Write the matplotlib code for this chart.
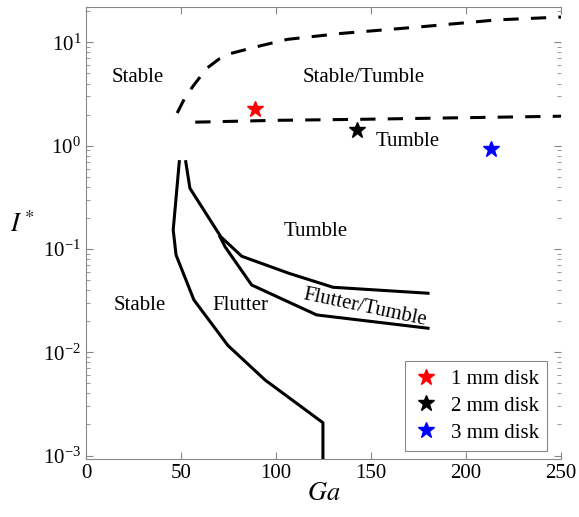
import numpy as np
import matplotlib
matplotlib.use('Agg')
import matplotlib.pyplot as plt

plt.rcParams['font.family'] = ['Liberation Serif', 'DejaVu Serif']
plt.rcParams['mathtext.fontset'] = 'stix'

# boundary curves (Ga, I*)
upper_ga = [48, 52, 56, 63.5, 70, 76, 90, 106, 134, 177, 216, 250]
upper_i = [2.07, 2.9, 3.7, 5.6, 6.9, 7.8, 9.1, 10.7, 12.2, 14.2, 16.5, 17.6]

lower_ga = [57.5, 100, 144, 250]
lower_i = [1.69, 1.76, 1.80, 1.93]

stable_ga = [49.1, 45.9, 47.4, 56.8, 74.7, 94.2, 124.7, 124.7]
stable_i = [0.70, 0.153, 0.0875, 0.0321, 0.01164, 0.0054, 0.00208, 0.00095]

tumble_ga = [52.5, 54.7, 71, 82, 107, 130, 180]
tumble_i = [0.70, 0.387, 0.131, 0.085, 0.058, 0.0426, 0.0373]

flutter_ga = [70.5, 73.2, 87.2, 121.4, 180]
flutter_i = [0.1316, 0.105, 0.0448, 0.023, 0.0171]

disk_labels = ['1 mm disk', '2 mm disk', '3 mm disk']
disk_colors = ['red', 'black', 'blue']
disk_ga = [89, 142.5, 213]
disk_i = [2.27, 1.42, 0.93]

fig = plt.figure(figsize=(5.79, 5.17), dpi=100)
ax = fig.add_axes([0.1485, 0.1122, 0.8205, 0.875])

ax.plot(upper_ga, upper_i, color='black', lw=2.2, dashes=(5, 4))
ax.plot(lower_ga, lower_i, color='black', lw=2.2, dashes=(5, 4))
ax.plot(stable_ga, stable_i, color='black', lw=2.2)
ax.plot(tumble_ga, tumble_i, color='black', lw=2.2)
ax.plot(flutter_ga, flutter_i, color='black', lw=2.2)

for lab, c, g, i in zip(disk_labels, disk_colors, disk_ga, disk_i):
    ax.plot(g, i, linestyle='none', marker='*', color=c, ms=12, label=lab)

fs = 15
ax.text(27.5, 4.6, 'Stable', fontsize=fs, ha='center', va='center')
ax.text(146, 4.6, 'Stable/Tumble', fontsize=fs, ha='center', va='center')
ax.text(169.5, 1.09, 'Tumble', fontsize=fs, ha='center', va='center')
ax.text(121, 0.148, 'Tumble', fontsize=fs, ha='center', va='center')
ax.text(28.4, 0.0283, 'Stable', fontsize=fs, ha='center', va='center')
ax.text(81, 0.0283, 'Flutter', fontsize=fs, ha='center', va='center')
ax.text(147, 0.0272, 'Flutter/Tumble', fontsize=fs, ha='center', va='center',
        rotation=-12)

ax.set_yscale('log')
ax.set_xlim(0, 250)
ax.set_ylim(9.27e-4, 22.2)
ax.set_xticks([0, 50, 100, 150, 200, 250])
ax.set_xlabel('$Ga$', fontsize=19, labelpad=0)
ax.set_ylabel('$I^*$', fontsize=19, rotation=0, labelpad=14)
ax.yaxis.set_label_coords(-0.135, 0.49)

grey = '#888888'
for s in ['left', 'bottom', 'top']:
    ax.spines[s].set_color(grey)
    ax.spines[s].set_linewidth(0.8)
ax.spines['right'].set_visible(False)
ax.tick_params(which='both', direction='in', top=True, right=True,
               color=grey, labelsize=15)
ax.tick_params(which='major', length=5)
ax.tick_params(which='minor', length=3)

leg = ax.legend(loc='lower right', bbox_to_anchor=(0.9705, 0.0177), fontsize=15,
                fancybox=False, framealpha=1, edgecolor=grey, handletextpad=0.6,
                handlelength=1.2, labelspacing=0.35, borderpad=0.4,
                borderaxespad=0)
leg.get_frame().set_linewidth(0.8)

fig.savefig('out.png', dpi=100)
